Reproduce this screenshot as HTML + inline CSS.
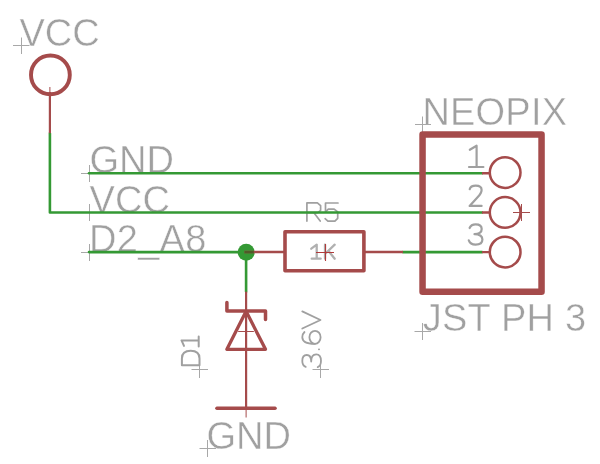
<!DOCTYPE html>
<html><head><meta charset="utf-8">
<style>
html,body{margin:0;padding:0;background:#fff;width:600px;height:464px;overflow:hidden}
svg{display:block;will-change:transform}
text{font-family:"Liberation Sans",sans-serif;fill:#a0a0a0;stroke:#fff;stroke-width:0.45px}
</style></head>
<body>
<svg width="600" height="464" viewBox="0 0 600 464">
<!-- proportional texts -->
<text x="19.5" y="45.6" font-size="38">VCC</text>
<text x="89.4" y="172.6" font-size="38">GND</text>
<text x="89.6" y="212.8" font-size="38">VCC</text>
<text x="89" y="251.7" font-size="38" letter-spacing="0.3">D2_A8</text>
<text x="422.4" y="124.7" font-size="38" letter-spacing="0.2">NEOPIX</text>
<text x="422.8" y="331.2" font-size="38" letter-spacing="0.2">JST PH 3</text>
<text x="206.5" y="448.5" font-size="38">GND</text>
<!-- origin crosses -->
<g stroke="#a8a8a8" stroke-width="1" fill="none">
  <path d="M13 45.5H29.5M21.5 37.5V54"/>
  <path d="M81 173.5H97.5M89.5 165V182"/>
  <path d="M81 212.5H97.5M89.5 204V221"/>
  <path d="M81 252.5H97.5M89.5 244V261"/>
  <path d="M415 124.5H431M422.5 116.5V132.5"/>
  <path d="M414.5 331.5H431M422.5 323V340"/>
  <path d="M191.5 369.5H208M199.5 361V378"/>
  <path d="M312.5 369.5H329M320.5 361V378"/>
  <path d="M199.5 448.5H216M207.5 440V457"/>
</g>
<g stroke="#a0a0a0" fill="none" stroke-linejoin="round" stroke-linecap="round">
  <path d="M306.9 221.1V202.9H317.4L320.6 205.7V210.3L317.8 212.7H306.9M313.9 212.7L320.2 221.1" stroke-width="1.7"/>
  <path d="M338 203H325.5V212L328.3 209.2H334.2L337.7 212V218.3L334.9 221.1H327.9L325.1 218.7" stroke-width="1.7"/>
</g>
<!-- nets -->
<g stroke="#349934" stroke-width="2.6" fill="none" stroke-linecap="round" stroke-linejoin="round">
  <path d="M49.9 133.2V212.45H482"/>
  <path d="M89 173.3H482"/>
  <path d="M89 252.1H246.1V291.7"/>
  <path d="M403 252.1H482"/>
</g>
<circle cx="246.2" cy="252.2" r="8.5" fill="#349934"/>
<!-- symbols -->
<g stroke="#a54b4b" fill="none" stroke-linejoin="round" stroke-linecap="round">
  <circle cx="50.4" cy="74.9" r="19.4" stroke-width="3.9"/>
  <path d="M49.9 92V133.2" stroke-width="2.2" stroke-linecap="butt"/>
  <path d="M49.9 87V94" stroke-width="1" stroke-linecap="butt"/>
  <path d="M244.5 252H285M363.9 252H403" stroke-width="2.4" stroke-linecap="butt"/>
  <rect x="285" y="231.8" width="78.9" height="39" stroke-width="3.6"/>
  <path d="M246.1 291.7V409" stroke-width="2.2" stroke-linecap="butt"/>
  <path d="M246.1 409V417.5" stroke-width="1" stroke-linecap="butt"/>
  <path d="M216.9 408.3H275.1" stroke-width="3.4"/>
  <path d="M226.9 302.6V311H265.5V319.4" stroke-width="3.5"/>
  <path d="M246.1 311.3L226.9 349.3H265.5Z" stroke-width="3.3"/>
  <path d="M238.6 331.5H253.4" stroke-width="1.2"/>
  <path d="M422.55 134.55H541.55V291.65H422.55Z" stroke-width="6.5"/>
  <circle cx="505.15" cy="172.6" r="15.35" stroke-width="2.5"/>
  <circle cx="505.15" cy="212.45" r="15.35" stroke-width="2.5"/>
  <circle cx="505.15" cy="252.1" r="15.35" stroke-width="2.5"/>
  <path d="M482 173.3H490M482 212.45H490M482 252.1H490" stroke-width="2.4" stroke-linecap="butt"/>
  <path d="M513 212.5H530M521.5 204V221" stroke-width="1" stroke-linecap="butt"/>
</g>
<!-- vector-font texts -->
<g stroke="#a0a0a0" fill="none" stroke-linejoin="round" stroke-linecap="round">
  <path d="M311.3 248.7L316.7 244.7V258.7M311.7 258.7H320.7" stroke-width="2.3" stroke="#b0b0b0"/>
  <path d="M325 244.7V258.7M334.7 244.7L325.5 253.5M328.5 251L334.7 258.7" stroke-width="2.3" stroke="#b0b0b0"/>
  <g stroke-width="2.2">
    <path d="M469.8 149.8L476.6 145.7V167M469 167H483.4"/>
    <path d="M469.7 189.2Q470.6 185.6 475.7 185.6Q481.6 185.6 481.6 190Q481.6 193 477.8 197L469.6 205.9H481.6"/>
    <path d="M469.6 228Q471 224.3 475.7 224.3Q481.7 224.3 481.7 229Q481.7 234 474.5 234.2Q482.4 234.5 482.4 239.5Q482.4 244.6 475.6 244.6Q470.2 244.6 468.8 240.4"/>
  </g>
  <g transform="translate(199.5 369.4) rotate(-90)" stroke-width="2">
    <path d="M4.2 0V-17.6H11Q18.6 -17.6 18.6 -8.8Q18.6 0 11 0Z"/>
    <path d="M23.5 -15.5L29 -18V-0.8M23 -0.8H33"/>
  </g>
  <g transform="translate(320.7 369.5) rotate(-90)" stroke-width="1.8">
    <path d="M41 -18.4L49.5 -0.2L58.1 -18.4"/>
    <path d="M37.5 -16.2Q35.5 -18.4 32.2 -18.4Q25.6 -18.4 25.6 -6"/>
    <ellipse cx="32.2" cy="-5.7" rx="6.5" ry="5.6"/>
    <path d="M20.2 -1.8V-1.6"/>
    <path d="M2.6 -15Q4 -18.4 8.5 -18.4Q14.5 -18.4 14.5 -14Q14.5 -9.5 8 -9.5Q15.2 -9.5 15.2 -4.5Q15.2 0.3 8.7 0.3Q3.5 0.3 2.4 -3"/>
  </g>
</g>
<path d="M244.5 252.1H253.8" stroke="#505a28" stroke-width="2.4" fill="none"/>
<path d="M316 252.5H334M325.5 244V261" stroke="#b03a3a" stroke-width="1.1" fill="none"/>
</svg>
</body></html>
